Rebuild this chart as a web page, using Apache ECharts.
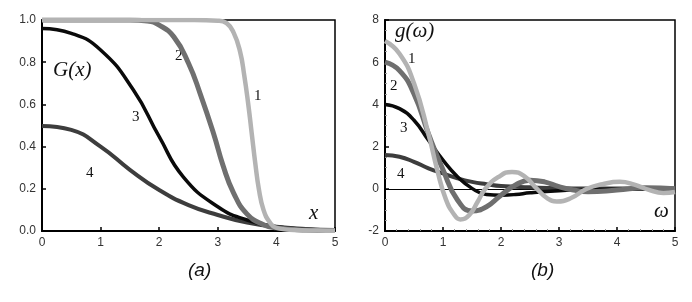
<!DOCTYPE html>
<html><head><meta charset="utf-8">
<script src="https://cdn.jsdelivr.net/npm/echarts@6/dist/echarts.min.js"></script>
<style>html,body{margin:0;padding:0;background:#fff}#c{width:692px;height:302px}</style>
</head><body><div id="c"></div>
<script>
// Panel (a): G(x)
const a1x = [0, 1, 2, 2.6, 3.0, 3.15, 3.27, 3.38, 3.45, 3.52, 3.58, 3.64, 3.7, 3.78, 3.89, 4.0, 4.3, 4.7, 5];
const a1y = [1, 1, 1, 1, 0.997, 0.985, 0.94, 0.85, 0.74, 0.6, 0.46, 0.32, 0.2, 0.1, 0.04, 0.015, 0.005, 0.002, 0.001];
const a2x = [0, 0.8, 1.5, 1.8, 2.0, 2.25, 2.5, 2.7, 2.93, 3.09, 3.27, 3.5, 3.78, 4.0, 4.5, 5];
const a2y = [1, 1, 1, 0.995, 0.976, 0.92, 0.795, 0.65, 0.46, 0.31, 0.18, 0.08, 0.03, 0.015, 0.005, 0.002];
const a3x = [0, 0.5, 1, 1.56, 2, 2.41, 3, 3.5, 4, 4.5, 5];
const a3y = [0.96, 0.937, 0.858, 0.668, 0.447, 0.257, 0.115, 0.052, 0.02, 0.008, 0.003];
const a4x = [0, 0.5, 1, 1.5, 2, 2.5, 3, 3.5, 4, 4.5, 5];
const a4y = [0.498, 0.479, 0.40, 0.29, 0.194, 0.123, 0.076, 0.04, 0.02, 0.01, 0.005];
// Panel (b): g(omega)
const b1x = [0, 0.25, 0.5, 0.75, 0.9, 1.05, 1.2, 1.3, 1.45, 1.6, 1.73, 1.95, 2.19, 2.4, 2.62, 2.8, 2.96, 3.2, 3.48, 3.75, 4.05, 4.3, 4.55, 4.8, 5];
const b1y = [7, 6.4, 5.0, 2.6, 0.9, -0.5, -1.25, -1.45, -1.25, -0.6, 0.0, 0.55, 0.8, 0.6, 0.0, -0.45, -0.6, -0.45, 0.0, 0.22, 0.33, 0.2, -0.05, -0.2, -0.15];
const b2x = [0, 0.25, 0.5, 0.75, 1, 1.25, 1.5, 1.75, 2, 2.25, 2.5, 2.75, 3, 3.25, 3.5, 4, 4.5, 5];
const b2y = [6, 5.6, 4.5, 2.6, 0.9, -0.53, -1.05, -0.85, -0.3, 0.18, 0.41, 0.33, 0.1, -0.06, -0.14, -0.06, 0.05, 0.0];
const b3x = [0, 0.25, 0.5, 0.75, 1, 1.25, 1.5, 1.75, 2, 2.25, 2.5, 3, 3.5, 4, 5];
const b3y = [4, 3.8, 3.25, 2.3, 1.36, 0.57, 0.02, -0.27, -0.3, -0.27, -0.19, -0.09, -0.04, -0.02, 0];
const b4x = [0, 0.25, 0.5, 0.75, 1, 1.25, 1.5, 1.75, 2, 2.5, 3, 3.5, 4, 4.5, 5];
const b4y = [1.6, 1.52, 1.28, 0.97, 0.73, 0.5, 0.33, 0.22, 0.13, 0.07, 0.03, 0.02, 0.02, 0.02, 0.02];

const xTicks = [0, 1, 2, 3, 4, 5];
const aYTicks = [0, 0.2, 0.4, 0.6, 0.8, 1.0];
const bYTicks = [-2, 0, 2, 4, 6, 8];

const zip = (xs, ys) => xs.map((x, i) => [x, ys[i]]);
const colors = ['#b3b3b3', '#6f6f6f', '#0a0a0a', '#3d3d3d'];
const widths = [4.5, 5, 3.5, 4];

function xAx(gi) {
  return {
    type: 'value', gridIndex: gi, min: xTicks[0], max: xTicks[xTicks.length - 1], interval: 1,
    axisLine: { show: true, onZero: false, lineStyle: { color: '#000', width: 2 } },
    axisTick: { show: true, inside: true, length: 4, lineStyle: { color: '#000', width: 1.5 } },
    minorTick: { show: gi === 1, splitNumber: 5, length: 2, lineStyle: { color: '#999' } },
    axisLabel: { color: '#333', fontSize: 12, fontFamily: 'Liberation Sans', margin: 6 },
    splitLine: { show: false }
  };
}
function yAx(gi, min, max, interval, fmt) {
  return {
    type: 'value', gridIndex: gi, min: min, max: max, interval: interval,
    axisLine: { show: true, onZero: false, lineStyle: { color: '#000', width: 2 } },
    axisTick: { show: true, inside: true, length: 4, lineStyle: { color: '#000', width: 1.5 } },
    minorTick: { show: gi === 1, splitNumber: 4, length: 2, lineStyle: { color: '#999' } },
    axisLabel: { color: '#333', fontSize: 12, fontFamily: 'Liberation Sans', margin: 6, formatter: fmt },
    splitLine: { show: false }
  };
}
function ser(xi, d, k) {
  return {
    type: 'line', xAxisIndex: xi, yAxisIndex: xi, data: d, showSymbol: false, symbol: 'none',
    smooth: 0.5, lineStyle: { color: colors[k], width: widths[k] }, z: 10 - k, silent: true
  };
}

const chart = echarts.init(document.getElementById('c'));
const aSeries = [zip(a1x, a1y), zip(a2x, a2y), zip(a3x, a3y), zip(a4x, a4y)];
const bSeries = [zip(b1x, b1y), zip(b2x, b2y), zip(b3x, b3y), zip(b4x, b4y)];
const series = [];
aSeries.forEach((d, k) => series.push(ser(0, d, k)));
bSeries.forEach((d, k) => series.push(ser(1, d, k)));
series[7].markLine = { silent: true, symbol: 'none', label: { show: false }, lineStyle: { color: '#000', width: 1, type: 'solid' }, data: [{ yAxis: 0 }] };

const txt = (x, y, s, font) => ({ type: 'text', left: x, top: y, style: { text: s, font: font, fill: '#111' } });
const serif = 'italic 21px "Liberation Serif"';
const num = '15px "Liberation Serif"';

chart.setOption({
  animation: false,
  grid: [
    { left: 42, top: 20, width: 293, height: 211, show: true, borderColor: '#000', borderWidth: 1.5, backgroundColor: 'transparent' },
    { left: 385, top: 20, width: 290, height: 211, show: true, borderColor: '#000', borderWidth: 1.5, backgroundColor: 'transparent' }
  ],
  xAxis: [xAx(0), xAx(1)],
  yAxis: [
    yAx(0, aYTicks[0], aYTicks[aYTicks.length - 1], 0.2, v => v.toFixed(1)),
    yAx(1, bYTicks[0], bYTicks[bYTicks.length - 1], 2, v => String(v))
  ],
  series: series,
  graphic: [
    txt(53, 60, 'G(x)', serif),
    txt(309, 203, 'x', serif),
    txt(254, 89, '1', num),
    txt(175, 49, '2', num),
    txt(132, 110, '3', num),
    txt(86, 166, '4', num),
    txt(395, 21, 'g(ω)', serif),
    txt(408, 52, '1', num),
    txt(390, 79, '2', num),
    txt(400, 121, '3', num),
    txt(397, 167, '4', num),
    txt(654, 201, 'ω', serif),
    txt(188, 261, '(a)', 'italic 19px "Liberation Sans"'),
    txt(531, 261, '(b)', 'italic 19px "Liberation Sans"')
  ]
});
</script></body></html>
